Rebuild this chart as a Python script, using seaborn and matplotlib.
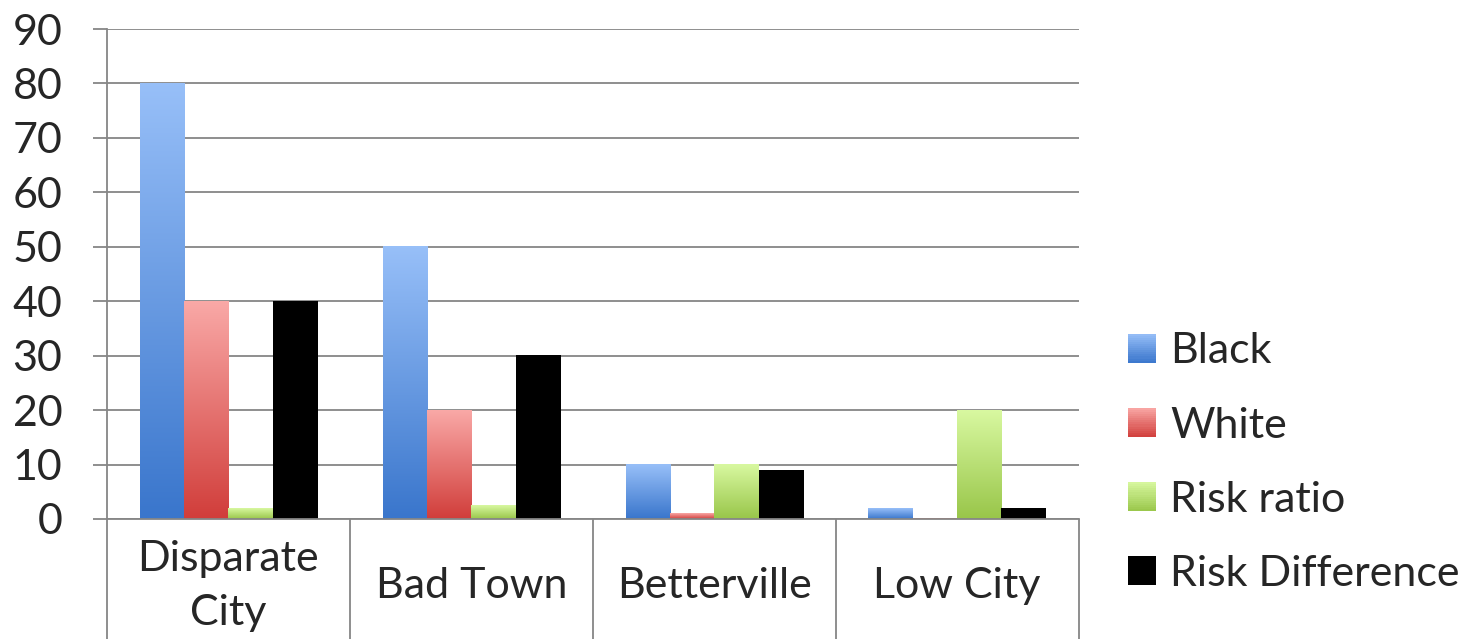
import numpy as np
import pandas as pd
import matplotlib
matplotlib.use("Agg")
import matplotlib.pyplot as plt
import seaborn as sns
from matplotlib.patches import Rectangle
from matplotlib.legend_handler import HandlerBase
from matplotlib.colors import to_rgb

# ---- data -------------------------------------------------------------
categories = ["Disparate\nCity", "Bad Town", "Betterville", "Low City"]
series = ["Black", "White", "Risk ratio", "Risk Difference"]
black = [80, 50, 10, 2]
white = [40, 20, 1, 0.1]
risk_ratio = [2, 2.5, 10, 20]
risk_difference = [40, 30, 9, 1.9]
y_ticks = [0, 10, 20, 30, 40, 50, 60, 70, 80, 90]

# top / bottom colours of each series' vertical gradient
gradients = {
    "Black": ("#97bff8", "#3a76cc"),
    "White": ("#f9a8a6", "#d13e3b"),
    "Risk ratio": ("#d8f8a0", "#99c64a"),
    "Risk Difference": ("#000000", "#000000"),
}

df = pd.DataFrame({
    "city": np.repeat(categories, len(series)),
    "series": series * len(categories),
    "value": np.array([black, white, risk_ratio, risk_difference]).T.ravel(),
})

sns.set_style("white")
FONT = ["Lato", "DejaVu Sans"]
plt.rcParams["font.family"] = FONT
FS = 31
GRAY = "#868686"

fig = plt.figure(figsize=(14.73, 6.39), dpi=100)
ax = fig.add_axes([0.0726, 0.1878, 0.6596, 0.7668])

sns.barplot(data=df, x="city", y="value", hue="series", order=categories,
            hue_order=series, width=0.73, legend=False, ax=ax,
            palette=[gradients[s][1] for s in series], saturation=1,
            linewidth=0, zorder=2)


def ramp(top, bottom, n=64):
    t = np.linspace(0, 1, n)[:, None]
    return (np.array(to_rgb(top)) * (1 - t) + np.array(to_rgb(bottom)) * t)[:, None, :]


# repaint each bar with a top-to-bottom gradient
for name, cont in zip(series, ax.containers):
    img = ramp(*gradients[name])
    for bar in cont.patches:
        x, w, h = bar.get_x(), bar.get_width(), bar.get_height()
        if h <= 0:
            continue
        ax.imshow(img, extent=[x, x + w, 0, h], aspect="auto",
                  interpolation="bilinear", zorder=2.5)
        bar.set_facecolor("none")

ax.set_xlim(-0.5, len(categories) - 0.5)
ax.set_ylim(0, 90)
ax.set_xlabel("")
ax.set_ylabel("")

# y axis: gridlines, outward ticks
ax.set_yticks(y_ticks)
ax.set_yticklabels([str(v) for v in y_ticks], fontsize=FS)
ax.yaxis.grid(True, color=GRAY, linewidth=1.3, zorder=0)
ax.set_axisbelow(True)
ax.tick_params(axis="y", direction="out", length=10, width=1.3,
               color=GRAY, pad=22, left=True)

# x axis: long boundary ticks form the category boxes, labels centred
ax.set_xticks(np.arange(len(categories) + 1) - 0.5)
ax.set_xticklabels([])
ax.set_xticks(np.arange(len(categories)), minor=True)
ax.set_xticklabels(categories, minor=True, fontsize=FS, linespacing=1.52)
ax.tick_params(axis="x", which="major", direction="out", length=87,
               width=1.3, color=GRAY, bottom=True)
ax.tick_params(axis="x", which="minor", length=0, pad=48)
for lbl in ax.get_xticklabels(minor=True):
    lbl.set_verticalalignment("center")

for side in ("top", "right"):
    ax.spines[side].set_visible(False)
for side in ("left", "bottom"):
    ax.spines[side].set_color(GRAY)
    ax.spines[side].set_linewidth(1.3)


class GradientKey:
    def __init__(self, top, bottom):
        self.top, self.bottom = np.array(to_rgb(top)), np.array(to_rgb(bottom))


class GradientHandler(HandlerBase):
    def create_artists(self, legend, orig_handle, xdescent, ydescent,
                       width, height, fontsize, trans):
        n = 14
        arts = []
        for i in range(n):
            frac = (i + 0.5) / n
            c = orig_handle.bottom * (1 - frac) + orig_handle.top * frac
            arts.append(Rectangle((-xdescent, -ydescent + height * i / n),
                                  width, height / n * 1.05, facecolor=c,
                                  edgecolor="none", transform=trans))
        return arts


handles = [GradientKey(*gradients[s]) for s in series]
fig.legend(handles, series, handler_map={GradientKey: GradientHandler()},
           loc="center left", bbox_to_anchor=(0.7658, 0.276), frameon=False,
           fontsize=FS, handlelength=0.65, handleheight=0.65,
           handletextpad=0.33, labelspacing=0.84, borderpad=0,
           borderaxespad=0)

fig.savefig("out.png", dpi=100)
